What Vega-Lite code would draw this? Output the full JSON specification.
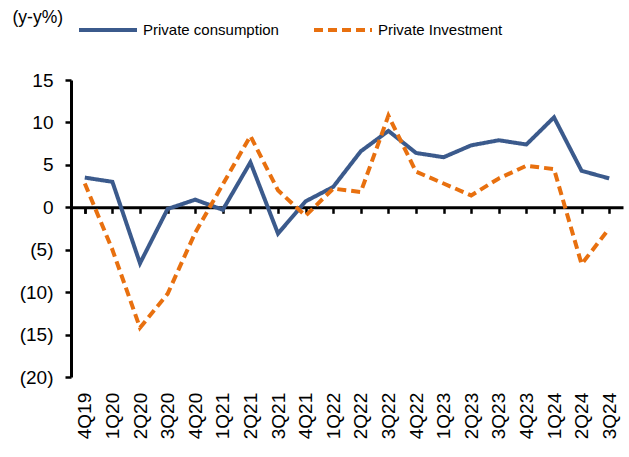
{
  "$schema": "https://vega.github.io/schema/vega-lite/v6.json",
  "autosize": "none",
  "width": 552,
  "height": 297,
  "padding": {"left": 71, "top": 80, "right": 6, "bottom": 80},
  "background": "white",
  "config": {
    "view": {"stroke": null},
    "font": "Liberation Sans",
    "axis": {"labelFont": "Liberation Sans", "labelColor": "black", "domainColor": "black", "tickColor": "black", "grid": false}
  },
  "data": {
    "values": [
      {"q": "4Q19", "series": "Private consumption", "v": 3.5},
      {"q": "1Q20", "series": "Private consumption", "v": 3.0},
      {"q": "2Q20", "series": "Private consumption", "v": -6.6},
      {"q": "3Q20", "series": "Private consumption", "v": -0.2},
      {"q": "4Q20", "series": "Private consumption", "v": 0.9},
      {"q": "1Q21", "series": "Private consumption", "v": -0.3},
      {"q": "2Q21", "series": "Private consumption", "v": 5.3},
      {"q": "3Q21", "series": "Private consumption", "v": -3.1},
      {"q": "4Q21", "series": "Private consumption", "v": 0.7},
      {"q": "1Q22", "series": "Private consumption", "v": 2.4},
      {"q": "2Q22", "series": "Private consumption", "v": 6.6},
      {"q": "3Q22", "series": "Private consumption", "v": 9.0},
      {"q": "4Q22", "series": "Private consumption", "v": 6.4},
      {"q": "1Q23", "series": "Private consumption", "v": 5.9},
      {"q": "2Q23", "series": "Private consumption", "v": 7.3},
      {"q": "3Q23", "series": "Private consumption", "v": 7.9},
      {"q": "4Q23", "series": "Private consumption", "v": 7.4},
      {"q": "1Q24", "series": "Private consumption", "v": 10.6},
      {"q": "2Q24", "series": "Private consumption", "v": 4.3},
      {"q": "3Q24", "series": "Private consumption", "v": 3.4},
      {"q": "4Q19", "series": "Private Investment", "v": 2.8},
      {"q": "1Q20", "series": "Private Investment", "v": -5.0},
      {"q": "2Q20", "series": "Private Investment", "v": -14.2},
      {"q": "3Q20", "series": "Private Investment", "v": -10.2},
      {"q": "4Q20", "series": "Private Investment", "v": -3.0},
      {"q": "1Q21", "series": "Private Investment", "v": 2.7},
      {"q": "2Q21", "series": "Private Investment", "v": 8.4},
      {"q": "3Q21", "series": "Private Investment", "v": 2.0},
      {"q": "4Q21", "series": "Private Investment", "v": -1.0},
      {"q": "1Q22", "series": "Private Investment", "v": 2.2},
      {"q": "2Q22", "series": "Private Investment", "v": 1.8},
      {"q": "3Q22", "series": "Private Investment", "v": 10.8},
      {"q": "4Q22", "series": "Private Investment", "v": 4.2},
      {"q": "1Q23", "series": "Private Investment", "v": 2.8},
      {"q": "2Q23", "series": "Private Investment", "v": 1.4},
      {"q": "3Q23", "series": "Private Investment", "v": 3.4},
      {"q": "4Q23", "series": "Private Investment", "v": 4.9},
      {"q": "1Q24", "series": "Private Investment", "v": 4.5},
      {"q": "2Q24", "series": "Private Investment", "v": -6.7},
      {"q": "3Q24", "series": "Private Investment", "v": -2.5}
    ]
  },
  "mark": {"type": "line", "strokeWidth": 4, "strokeCap": "butt", "strokeJoin": "miter"},
  "encoding": {
    "x": {
      "field": "q", "type": "ordinal", "sort": null,
      "scale": {"type": "point", "padding": 0.5},
      "axis": {
        "title": null, "labelAngle": -90, "labelFontSize": 19, "labelPadding": 179,
        "offset": -169.7, "tickSize": 6, "tickWidth": 2.5, "domainWidth": 3,
        "tickBand": "extent"
      }
    },
    "y": {
      "field": "v", "type": "quantitative",
      "scale": {"domain": [-20, 15], "nice": false, "zero": false},
      "axis": {
        "values": [-20, -15, -10, -5, 0, 5, 10, 15],
        "labelExpr": "datum.value < 0 ? '(' + format(-datum.value, 'd') + ')' : format(datum.value, 'd')",
        "labelFontSize": 19, "labelPadding": 12, "tickSize": 6, "tickWidth": 2.5, "domainWidth": 3,
        "title": "(y-y%)", "titleAngle": 0, "titleAlign": "left", "titleBaseline": "middle",
        "titleX": -59, "titleY": -63, "titleFontSize": 17.5, "titleFontWeight": "normal", "titleFont": "Liberation Sans"
      }
    },
    "color": {
      "field": "series", "type": "nominal",
      "scale": {"domain": ["Private consumption", "Private Investment"], "range": ["#3B5A8C", "#E8700F"]},
      "legend": {
        "title": null, "orient": "none", "direction": "horizontal", "legendX": 6, "legendY": -81,
        "symbolType": "stroke", "symbolSize": 3364, "symbolStrokeWidth": 4,
        "labelFontSize": 15, "labelColor": "black", "labelFont": "Liberation Sans",
        "labelOffset": 4, "columnPadding": 27, "padding": 0
      }
    },
    "strokeDash": {
      "field": "series", "type": "nominal",
      "scale": {"domain": ["Private consumption", "Private Investment"], "range": [[1, 0], [9, 5]]},
      "legend": {
        "title": null, "orient": "none", "direction": "horizontal", "legendX": 6, "legendY": -81,
        "symbolType": "stroke", "symbolSize": 3364, "symbolStrokeWidth": 4,
        "labelFontSize": 15, "labelColor": "black", "labelFont": "Liberation Sans",
        "labelOffset": 4, "columnPadding": 27, "padding": 0
      }
    }
  }
}
